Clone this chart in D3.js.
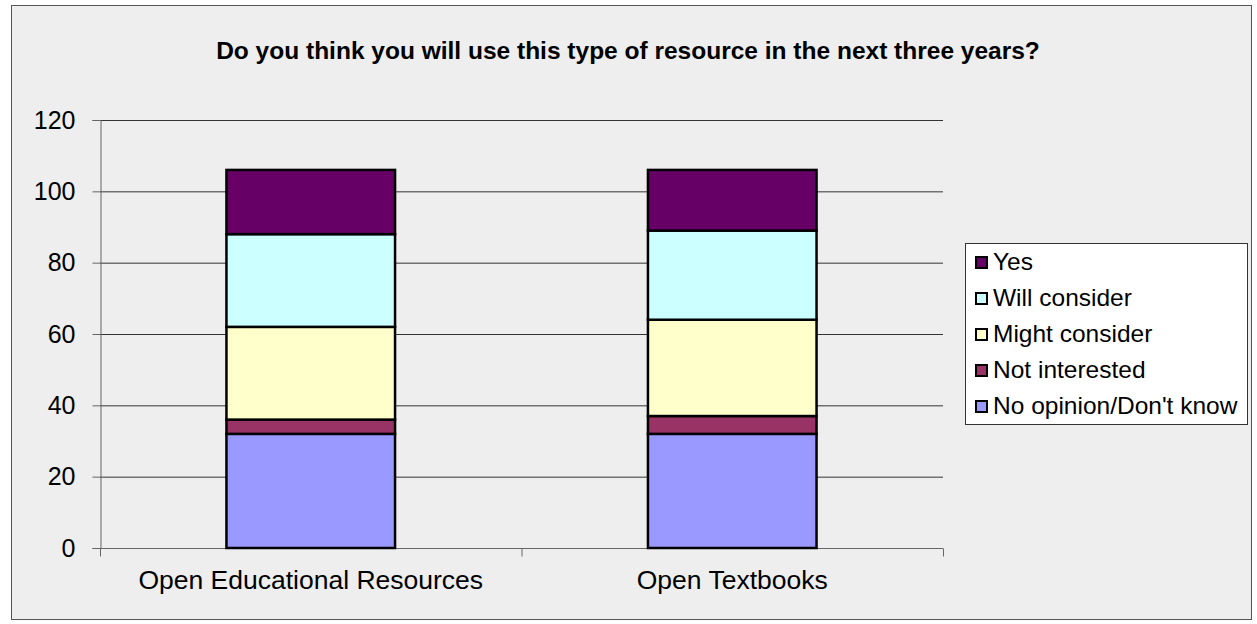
<!DOCTYPE html>
<html><head><meta charset="utf-8">
<script src="https://cdn.jsdelivr.net/npm/d3@7"></script>
<style>body{margin:0;background:#fff}svg{display:block}text{font-family:"Liberation Sans",Arial,sans-serif;fill:#000}</style>
</head><body>
<script>
const categories = ["Open Educational Resources", "Open Textbooks"];
const seriesNames = ["No opinion/Don't know", "Not interested", "Might consider", "Will consider", "Yes"];
const noOpinion = [32, 32];
const notInterested = [4, 5];
const mightConsider = [26, 27];
const willConsider = [26, 25];
const yes = [18, 17];
const yTicks = [0, 20, 40, 60, 80, 100, 120];
const colors = ["#9999FF", "#993366", "#FFFFCC", "#CCFFFF", "#660066"];
const title = "Do you think you will use this type of resource in the next three years?";

const W = 1257, H = 624;
const svg = d3.select("body").append("svg").attr("width", W).attr("height", H);
svg.append("rect").attr("x", 11.5).attr("y", 5.5).attr("width", 1240).attr("height", 614)
  .attr("fill", "#eeeeee").attr("stroke", "#555").attr("stroke-width", 1);

const plot = {l: 100, r: 943, t: 120, b: 548};
const x = d3.scaleBand().domain(categories).range([plot.l, plot.r]).paddingInner(0.6).paddingOuter(0.3);
const xOuter = d3.scaleBand().domain(categories).range([plot.l, plot.r]);
const y = d3.scaleLinear().domain([0, 120]).range([plot.b, plot.t]);

// gridlines
svg.append("g").selectAll("line").data(yTicks.filter(d => d > 0)).join("line")
  .attr("x1", plot.l).attr("x2", plot.r).attr("y1", d => y(d) + 0.5).attr("y2", d => y(d) + 0.5)
  .attr("stroke", "#333").attr("stroke-width", 1);

// y axis
const yAxis = svg.append("g").attr("transform", `translate(${plot.l + 0.5},0)`)
  .call(d3.axisLeft(y).tickValues(yTicks).tickSize(8).tickPadding(17));
yAxis.select(".domain").attr("stroke", "#666");
yAxis.selectAll(".tick line").attr("stroke", "#666");
yAxis.selectAll("text").style("font-size", "25px");

// x axis
const xAxisG = svg.append("g").attr("transform", `translate(0,${plot.b + 0.5})`);
xAxisG.append("line").attr("x1", plot.l).attr("x2", plot.r).attr("stroke", "#666");
const xTicks = [plot.l, ...categories.map(c => xOuter(c) + xOuter.bandwidth())];
xAxisG.selectAll(".xt").data(xTicks).join("line").attr("class", "xt")
  .attr("x1", d => d + 0.5).attr("x2", d => d + 0.5).attr("y1", 0).attr("y2", 8).attr("stroke", "#666");
xAxisG.selectAll("text").data(categories).join("text")
  .attr("x", d => xOuter(d) + xOuter.bandwidth() / 2).attr("y", 40)
  .attr("text-anchor", "middle").style("font-size", "26.5px").text(d => d);

// stacked bars
const table = categories.map((c, i) => ({
  cat: c,
  [seriesNames[0]]: noOpinion[i], [seriesNames[1]]: notInterested[i],
  [seriesNames[2]]: mightConsider[i], [seriesNames[3]]: willConsider[i], [seriesNames[4]]: yes[i]
}));
const stacked = d3.stack().keys(seriesNames)(table);
svg.append("g").selectAll("g").data(stacked).join("g").attr("fill", (d, i) => colors[i])
  .selectAll("rect").data(d => d).join("rect")
  .attr("x", d => x(d.data.cat)).attr("width", x.bandwidth())
  .attr("y", d => y(d[1])).attr("height", d => y(d[0]) - y(d[1]))
  .attr("stroke", "#000").attr("stroke-width", 2.5);

// title
svg.append("text").attr("x", 628).attr("y", 59).attr("text-anchor", "middle")
  .style("font-size", "24.5px").style("font-weight", "bold").text(title);

// legend
const lg = svg.append("g");
lg.append("rect").attr("x", 965.5).attr("y", 243.5).attr("width", 282).attr("height", 181)
  .attr("fill", "#fff").attr("stroke", "#333");
const legendOrder = seriesNames.map((n, i) => ({n, c: colors[i]})).reverse();
const items = lg.selectAll("g").data(legendOrder).join("g")
  .attr("transform", (d, i) => `translate(0,${262 + i * 36})`);
items.append("rect").attr("x", 976).attr("y", -5).attr("width", 11).attr("height", 11)
  .attr("fill", d => d.c).attr("stroke", "#000").attr("stroke-width", 2);
items.append("text").attr("x", 993).attr("y", 8).style("font-size", "24.5px").text(d => d.n);
</script>
</body></html>
